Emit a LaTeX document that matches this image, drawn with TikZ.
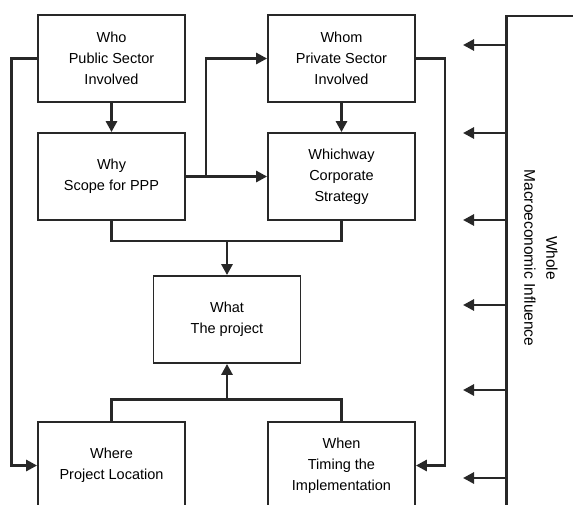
\documentclass[tikz,border=0pt]{standalone}
\usepackage{fontspec}
\setmainfont{Liberation Sans}
\usepackage{tikz}
\usetikzlibrary{arrows.meta,positioning,calc}
\definecolor{boxline}{RGB}{40,40,40}

\begin{document}
\begin{tikzpicture}[x=1pt,y=-1pt,
    box/.style={draw=boxline, line width=1.8pt, minimum width=147pt, minimum height=87pt,
        align=center, inner sep=0pt, font=\fontsize{14.5}{21}\selectfont},
    link/.style={draw=boxline, line width=2.8pt},
    arr/.style={link, -{Triangle[length=11pt,width=11pt]}}]

    % Page
    \useasboundingbox (0,0) rectangle (573,504);
    \clip (0,0) rectangle (573,504);

    % Boxes
    \node[box] (Who) at (111.5,58.5) {Who\\Public Sector\\Involved};
    \node[box] (Whom) at (341.5,58.5) {Whom\\Private Sector\\Involved};
    \node[box] (Why) at (111.5,176.5) {Why\\Scope for PPP};
    \node[box] (Whichway) at (341.5,176.5) {Whichway\\Corporate\\Strategy};
    \node[box] (What) at (227,319.5) {What\\The project};
    \node[box] (Where) at (111.5,465.5) {Where\\Project Location};
    \node[box] (When) at (341.5,465.5) {When\\Timing the\\Implementation};

    % Macroeconomic frame
    \node[draw=boxline, line width=1.5pt, minimum width=70pt, minimum height=505pt,
        anchor=north west, inner sep=0pt] (Macro) at (506,15) {};
    \draw[link] (Macro.north west) -- (Macro.south west);
    \node[rotate=-90, align=center, font=\fontsize{15.5}{22}\selectfont] (MacroText) at (541,258)
        {Whole\\Macroeconomic Influence};

    % Top row down
    \draw[arr] (Who.south) -- (Why.north);
    \draw[arr] (Whom.south) -- (Whichway.north);

    % Why to private side
    \draw[arr] (Why.east) -- (Whichway.west);
    \draw[arr] ($(Why.east)+(20,0)$) |- (Whom.west);

    % Into the project
    \coordinate (topjoin) at ($(Why.south)+(0,20)$);
    \draw[link] (Why.south) -- (topjoin) -| (Whichway.south);
    \draw[arr] (What.north |- topjoin) -- (What.north);

    \coordinate (botjoin) at ($(Where.north)+(0,-22)$);
    \draw[link] (Where.north) -- (botjoin) -| (When.north);
    \draw[arr] (What.south |- botjoin) -- (What.south);

    % Outer loops
    \draw[arr] (Who.west) -- ++(-26,0) |- (Where.west);
    \draw[arr] (Whom.east) -- ++(29,0) |- (When.east);

    % Influence arrows
    \foreach \y [count=\i] in {45,133,220,305,390,478} {
        \coordinate (in\i) at (463,\y);
        \draw[arr] (Macro.west |- in\i) -- (in\i);
    }

\end{tikzpicture}
\end{document}
